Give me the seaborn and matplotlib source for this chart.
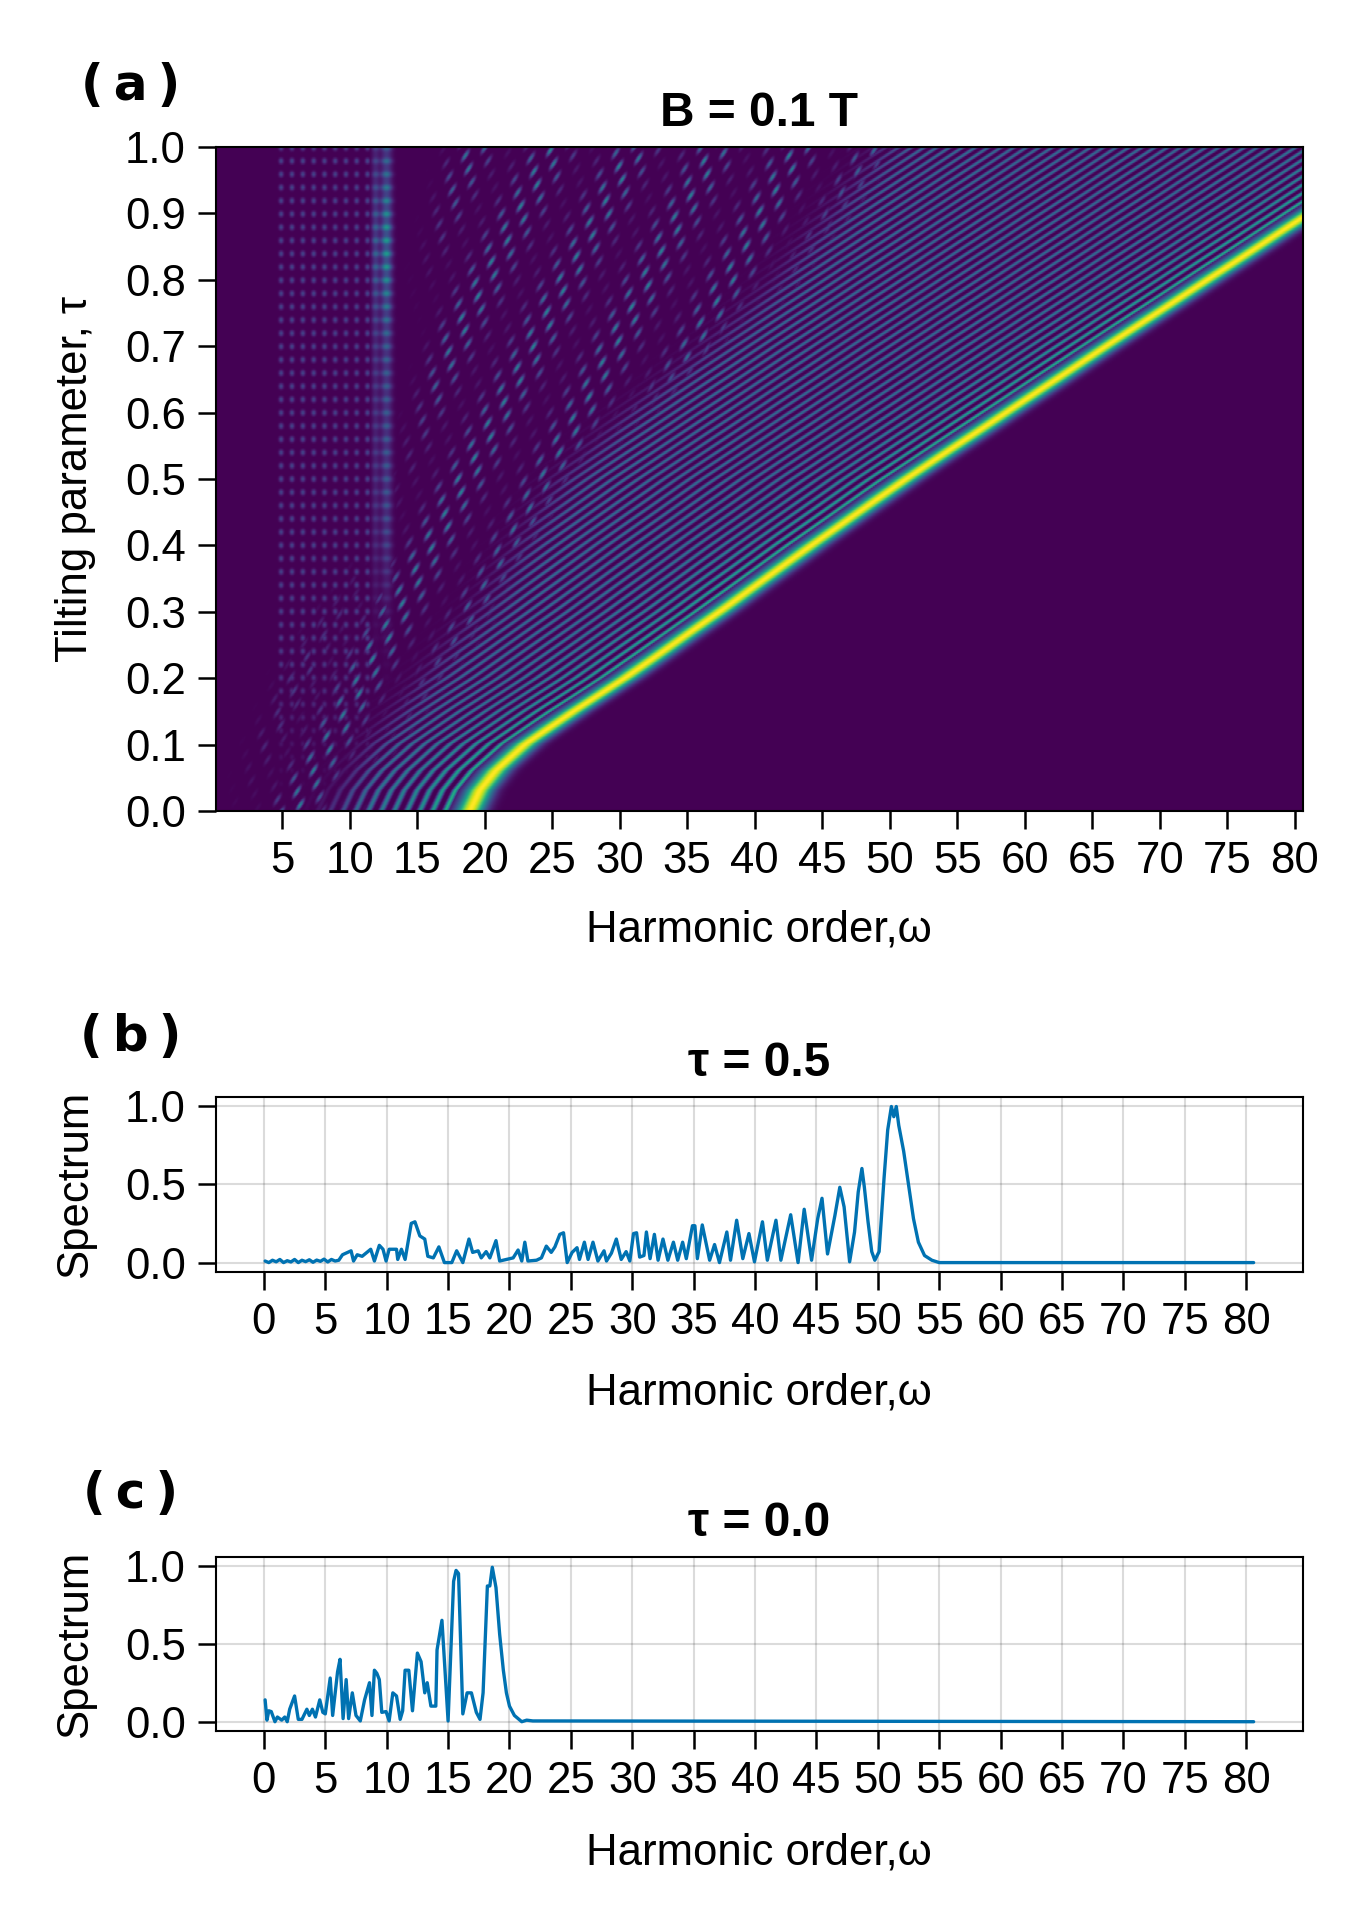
import numpy as np
import pandas as pd
import matplotlib
matplotlib.use("Agg")
import matplotlib.pyplot as plt
import seaborn as sns

sns.set_style("ticks")
plt.rcParams['font.family'] = ['Liberation Sans', 'DejaVu Sans']
plt.rcParams.update({'axes.linewidth': 1.0, 'text.color': 'black', 'axes.labelcolor': 'black',
                     'xtick.color': 'black', 'ytick.color': 'black', 'axes.edgecolor': 'black'})

# ---------------- panel (a): map features ----------------
# cutoff ridge (bright yellow line): harmonic position vs tilting parameter
tau_knots = [0.0, 0.03, 0.06, 0.1, 0.15, 0.2, 0.3, 0.4, 0.5, 0.6, 0.7, 0.8, 0.9, 1.0]
cutoff_knots = [18.9, 19.6, 20.8, 23.0, 26.6, 30.4, 37.4, 44.2, 51.2, 58.6, 66.0, 73.5, 81.0, 88.5]
# lower edge of the dense fringe fan and left edge of the speckled zone
edge_tau = [0.0, 0.1, 0.2, 0.3, 0.4, 0.5, 0.6, 0.7, 0.8, 0.9, 1.0]
fan_edge = [9.0, 12.0, 16.0, 20.0, 23.0, 26.0, 31.0, 37.0, 42.0, 46.0, 50.0]
speckle_edge = [3.0, 4.0, 6.0, 9.0, 13.0, 14.5, 15.5, 16.0, 16.5, 17.0, 17.5]
fringe_period = 0.95
band_center = 12.7          # vertical plateau band
column_centers = [4.9, 5.7, 6.5, 7.3, 8.1, 8.9, 9.7, 10.5, 11.3]
omega_range = (0.1, 80.6)

# ---------------- panel (b): spectrum at tau = 0.5 ----------------
b_omega = [0.1, 0.4, 0.7, 1.0, 1.3, 1.6, 1.9, 2.2, 2.5, 2.8,
           3.1, 3.4, 3.7, 4.0, 4.3, 4.6, 4.9, 5.2, 5.5, 5.8,
           6.1, 6.4, 7.1, 7.3, 7.6, 8.0, 8.7, 9.0, 9.4, 9.7,
           9.95, 10.2, 10.5, 10.8, 10.9, 11.2, 11.5, 12.0, 12.3, 12.7,
           13.1, 13.35, 13.8, 14.25, 14.7, 15.3, 15.7, 16.2, 16.7, 17.0,
           17.45, 17.7, 18.1, 18.4, 18.9, 19.2, 19.75, 20.3, 20.7, 21.0,
           21.25, 21.5, 22.2, 22.6, 23.0, 23.4, 23.7, 24.1, 24.4, 24.7,
           25.1, 25.5, 25.7, 26.1, 26.4, 26.8, 27.2, 27.7, 27.9, 28.3,
           28.7, 29.1, 29.5, 29.8, 30.1, 30.35, 30.6, 30.95, 31.15, 31.45,
           31.8, 32.1, 32.5, 32.9, 33.35, 33.7, 34.1, 34.4, 34.9, 35.1,
           35.3, 35.7, 36.3, 36.7, 37.1, 37.7, 38.0, 38.5, 39.0, 39.5,
           39.95, 40.6, 41.0, 41.7, 42.1, 42.9, 43.5, 44.0, 44.6, 45.1,
           45.45, 45.9, 46.5, 46.9, 47.25, 47.7, 48.1, 48.4, 48.7, 48.9,
           49.2, 49.5, 49.75, 50.1, 50.5, 50.8, 51.1, 51.3, 51.5, 51.7,
           52.1, 52.5, 52.9, 53.3, 53.8, 54.4, 55.0, 80.6]
b_spec = [0.01, 0.0, 0.015, 0.005, 0.02, 0.0, 0.012, 0.004, 0.02, 0.0,
          0.015, 0.006, 0.018, 0.002, 0.016, 0.008, 0.022, 0.004, 0.02, 0.01,
          0.015, 0.05, 0.075, 0.01, 0.05, 0.04, 0.085, 0.01, 0.11, 0.085,
          0.01, 0.085, 0.085, 0.085, 0.02, 0.085, 0.02, 0.25, 0.26, 0.17,
          0.15, 0.04, 0.03, 0.10, 0.0, 0.0, 0.075, 0.0, 0.15, 0.065,
          0.075, 0.03, 0.07, 0.03, 0.14, 0.01, 0.02, 0.03, 0.08, 0.01,
          0.13, 0.01, 0.015, 0.03, 0.105, 0.065, 0.10, 0.18, 0.19, 0.0,
          0.065, 0.095, 0.02, 0.13, 0.02, 0.13, 0.01, 0.075, 0.01, 0.06,
          0.15, 0.02, 0.07, 0.01, 0.185, 0.19, 0.035, 0.045, 0.195, 0.025,
          0.18, 0.015, 0.15, 0.015, 0.13, 0.015, 0.13, 0.025, 0.235, 0.235,
          0.025, 0.24, 0.015, 0.115, 0.0, 0.195, 0.015, 0.27, 0.025, 0.185,
          0.005, 0.26, 0.015, 0.27, 0.015, 0.305, 0.0, 0.34, 0.015, 0.28,
          0.41, 0.055, 0.30, 0.48, 0.355, 0.005, 0.195, 0.45, 0.60, 0.48,
          0.26, 0.07, 0.015, 0.07, 0.535, 0.845, 0.995, 0.93, 0.995, 0.875,
          0.71, 0.495, 0.28, 0.13, 0.045, 0.015, 0.0, 0.0]

# ---------------- panel (c): spectrum at tau = 0.0 ----------------
c_omega = [0.1, 0.25, 0.4, 0.6, 0.9, 1.1, 1.45, 1.7, 1.9, 2.1,
           2.5, 2.8, 3.1, 3.5, 3.7, 3.95, 4.2, 4.55, 4.8, 5.0,
           5.4, 5.6, 6.0, 6.2, 6.45, 6.7, 6.9, 7.2, 7.5, 7.85,
           8.2, 8.6, 8.8, 9.0, 9.2, 9.4, 9.6, 9.95, 10.2, 10.5,
           10.8, 11.1, 11.3, 11.5, 11.8, 12.1, 12.5, 12.8, 13.1, 13.3,
           13.6, 14.0, 14.1, 14.5, 15.0, 15.45, 15.65, 15.85, 16.2, 16.55,
           16.9, 17.3, 17.6, 17.85, 18.2, 18.4, 18.6, 18.9, 19.2, 19.5,
           19.75, 20.0, 20.4, 21.0, 21.4, 21.9, 80.6]
c_spec = [0.14, 0.01, 0.07, 0.065, 0.0, 0.03, 0.01, 0.03, 0.0, 0.08,
          0.165, 0.015, 0.015, 0.08, 0.04, 0.08, 0.03, 0.14, 0.06, 0.05,
          0.28, 0.04, 0.32, 0.40, 0.02, 0.27, 0.02, 0.185, 0.04, 0.005,
          0.14, 0.25, 0.04, 0.33, 0.31, 0.27, 0.06, 0.065, 0.005, 0.185,
          0.165, 0.015, 0.07, 0.33, 0.33, 0.07, 0.44, 0.385, 0.185, 0.25,
          0.10, 0.10, 0.46, 0.65, 0.005, 0.90, 0.97, 0.95, 0.05, 0.185,
          0.185, 0.06, 0.015, 0.185, 0.87, 0.87, 0.99, 0.86, 0.56, 0.33,
          0.185, 0.10, 0.04, 0.0, 0.01, 0.005, 0.0]

spec_df = pd.concat([
    pd.DataFrame({'omega': b_omega, 'spectrum': b_spec, 'tau': 0.5}),
    pd.DataFrame({'omega': c_omega, 'spectrum': c_spec, 'tau': 0.0}),
])

# ---------------- build the map for panel (a) ----------------
omega = np.linspace(omega_range[0], omega_range[1], 1100)
tau = np.linspace(0.0, 1.0, 450)
W, T = np.meshgrid(omega, tau)
wc = np.interp(tau, tau_knots, cutoff_knots)[:, None]
fan = np.interp(tau, edge_tau, fan_edge)[:, None]
lb = np.interp(tau, edge_tau, speckle_edge)[:, None]
d = wc - W


def soft(x, w):
    return 1.0 / (1.0 + np.exp(-x / w))


# bright cutoff ridge
ridge = np.exp(-0.5 * (d / 0.7) ** 2)
# parallel interference fringes below the cutoff
fr = ((1 + np.cos(2 * np.pi * (d - 1.8) / fringe_period)) / 2) ** 2
amp = 0.36 + 0.28 * np.exp(-(d - 1.8) / 3.0)
fringes = fr * amp * soft(d - 1.3, 0.15) * soft(W - fan, 0.8)

# speckled, streaky zone between the plateau and the fringe fan
streak = ((1 + np.cos(2 * np.pi * (W - 38 * T) / 1.0)) / 2) ** 3
dash = ((1 + np.cos(2 * np.pi * (W + 12 * T) / 1.6)) / 2) ** 2
bands = 0.55 + 0.45 * np.cos(2 * np.pi * (W - 25 * T) / 6.0)
chaos = 0.45 * streak * dash * bands * soft(W - lb, 0.6) * soft(fan - W, 0.8) * soft(d - 1.3, 0.15)

# vertical plateau band and faint dotted columns
col_dash = ((1 + np.cos(2 * np.pi * T / 0.02)) / 2) ** 2
vband = (np.exp(-0.5 * ((W - band_center) / 0.28) ** 2)
         + 0.6 * np.exp(-0.5 * ((W - band_center + 0.8) / 0.2) ** 2)) * soft(T - 0.35, 0.05) \
    * (0.3 + 0.25 * np.exp(-((T - 0.85) / 0.1) ** 2)) * (0.45 + 0.55 * col_dash)
cols = np.zeros_like(W)
for cc in column_centers:
    cols += np.exp(-0.5 * ((W - cc) / 0.12) ** 2)
cols = 0.2 * cols * col_dash * soft(T - 0.15, 0.05) * soft(d - 2.0, 0.3)

Z = np.clip(np.maximum.reduce([ridge, fringes, chaos, vband, cols]), 0, 1)

# ---------------- figure ----------------
fig = plt.figure(figsize=(9, 12.8), dpi=150)
ax_a = fig.add_axes([0.160, 0.5776, 0.805, 0.3458])
ax_b = fig.add_axes([0.160, 0.3375, 0.805, 0.0911])
ax_c = fig.add_axes([0.160, 0.0984, 0.805, 0.0906])

tick_fs = 21
lab_fs = 21
title_fs = 23
line_color = '#0072B2'

ax_a.imshow(Z, origin='lower', aspect='auto', cmap='viridis', vmin=0, vmax=1,
            extent=[omega_range[0], omega_range[1], 0, 1], interpolation='antialiased')
ax_a.set_xlim(*omega_range)
ax_a.set_ylim(0, 1)
ax_a.set_xticks(np.arange(5, 81, 5))
ax_a.set_yticks(np.round(np.arange(0, 1.01, 0.1), 1))
ax_a.set_yticklabels([f'{v:.1f}' for v in np.arange(0, 1.01, 0.1)])
ax_a.set_title('B = 0.1 T', fontsize=title_fs, fontweight='bold', pad=10)
ax_a.set_xlabel('Harmonic order,ω', fontsize=lab_fs)
ax_a.set_ylabel('Tilting parameter, τ', fontsize=lab_fs)
ax_a.xaxis.set_label_coords(0.5, -0.179)
ax_a.yaxis.set_label_coords(-0.129, 0.5)

for ax, t, title in [(ax_b, 0.5, 'τ = 0.5'), (ax_c, 0.0, 'τ = 0.0')]:
    sub = spec_df[spec_df['tau'] == t]
    sns.lineplot(data=sub, x='omega', y='spectrum', ax=ax, color=line_color,
                 linewidth=1.6, estimator=None, sort=False)
    ax.set_xlim(-3.9, 84.6)
    ax.set_ylim(-0.06, 1.055)
    ax.set_xticks(np.arange(0, 81, 5))
    ax.set_yticks([0.0, 0.5, 1.0])
    ax.set_yticklabels(['0.0', '0.5', '1.0'])
    ax.grid(True, color='black', alpha=0.14, linewidth=1.0)
    ax.set_title(title, fontsize=title_fs, fontweight='bold', pad=10)
    ax.set_xlabel('Harmonic order,ω', fontsize=lab_fs)
    ax.set_ylabel('Spectrum', fontsize=lab_fs)
    ax.yaxis.set_label_coords(-0.129, 0.5)
ax_b.xaxis.set_label_coords(0.5, -0.691)
ax_c.xaxis.set_label_coords(0.5, -0.701)

for ax in (ax_a, ax_b, ax_c):
    ax.tick_params(axis='both', direction='out', length=8.5, width=1.2,
                   labelsize=tick_fs, pad=6, color='black', labelcolor='black')
    ax.xaxis.label.set_verticalalignment('center')
    ax.yaxis.label.set_verticalalignment('center')
    for s in ax.spines.values():
        s.set_visible(True)
        s.set_color('black')
        s.set_linewidth(1.0)

for label, y in [('(\u2009a\u2009)', 0.955), ('(\u2009b\u2009)', 0.460), ('(\u2009c\u2009)', 0.222)]:
    fig.text(0.097, y, label, fontsize=24, fontweight='bold', ha='center', va='center',
             family=['DejaVu Sans'])

fig.savefig('out.png', dpi=150)
